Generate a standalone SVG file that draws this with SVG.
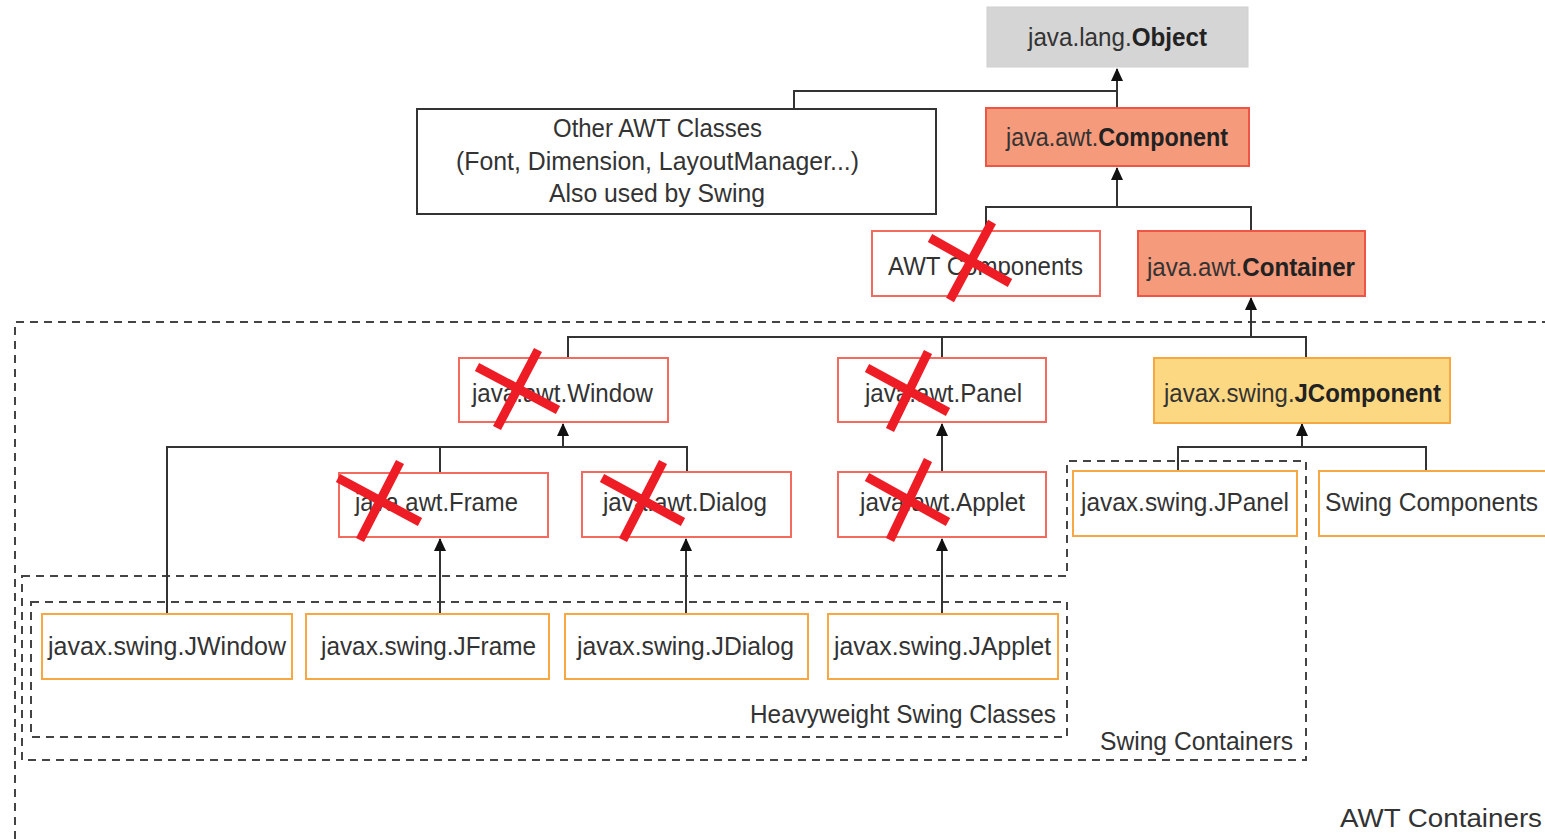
<svg xmlns="http://www.w3.org/2000/svg" width="1545" height="839" viewBox="0 0 1545 839">
<style>
text{font-family:"Liberation Sans",Arial,sans-serif;font-size:26px;fill:#333;}
.c{text-anchor:middle;}
.e{text-anchor:end;}
.b{font-weight:bold;fill:#222;}
.dash{fill:none;stroke:#444;stroke-width:2;stroke-dasharray:8 6;}
.con{fill:none;stroke:#333;stroke-width:2;}
.red{fill:#fff;stroke:#f26b5e;stroke-width:2;}
.org{fill:#fff;stroke:#f7a843;stroke-width:2;}
.sal{fill:#f59a7b;stroke:#ee5545;stroke-width:2;}
.yel{fill:#fcd883;stroke:#f5a840;stroke-width:2;}
.gry{fill:#d5d5d5;stroke:#d0d0d0;stroke-width:1;}
.blk{fill:#fff;stroke:#333;stroke-width:2;}
.x{stroke:#ee1c25;stroke-width:9;stroke-linecap:butt;}
</style>
<defs>
<marker id="arr" markerUnits="userSpaceOnUse" markerWidth="13" markerHeight="12" refX="12" refY="6" orient="auto">
<path d="M0,0 L13,6 L0,12 z" fill="#111"/>
</marker>
</defs>
<rect width="1545" height="839" fill="#fff"/>
<g id="groups">
<path class="dash" d="M1550,322 H15 V845"/>
<path class="dash" d="M22,576 H1067 V461 H1306 V760 H22 Z"/>
<rect class="dash" x="31" y="602" width="1036" height="135"/>
<text class="e" x="1056" y="723" textLength="306" lengthAdjust="spacingAndGlyphs">Heavyweight Swing Classes</text>
<text class="e" x="1293" y="750" textLength="193" lengthAdjust="spacingAndGlyphs">Swing Containers</text>
<text class="e" x="1542" y="827" textLength="202" lengthAdjust="spacingAndGlyphs">AWT Containers</text>
</g>
<g id="connectors">
<path class="con" d="M1117,108 V69" marker-end="url(#arr)"/>
<path class="con" d="M794,109 V91 H1117"/>
<path class="con" d="M1117,207 V168" marker-end="url(#arr)"/>
<path class="con" d="M986,231 V207 H1251 V231"/>
<path class="con" d="M1251,337 V298" marker-end="url(#arr)"/>
<path class="con" d="M568,358 V337 H1306 V358"/>
<path class="con" d="M942,337 V358"/>
<path class="con" d="M563,447 V424" marker-end="url(#arr)"/>
<path class="con" d="M167,613 V447 H687 V472"/>
<path class="con" d="M440,447 V473"/>
<path class="con" d="M440,613 V539" marker-end="url(#arr)"/>
<path class="con" d="M686,613 V539" marker-end="url(#arr)"/>
<path class="con" d="M942,613 V539" marker-end="url(#arr)"/>
<path class="con" d="M942,471 V424" marker-end="url(#arr)"/>
<path class="con" d="M1302,447 V424" marker-end="url(#arr)"/>
<path class="con" d="M1178,471 V447 H1426 V471"/>
</g>
<g id="object">
<rect class="gry" x="987" y="7" width="261" height="60"/>
<text class="c" x="1117.5" y="46" textLength="179" lengthAdjust="spacingAndGlyphs">java.lang.<tspan class="b">Object</tspan></text>
</g>
<g id="other-awt">
<rect class="blk" x="417" y="109" width="519" height="105"/>
<text class="c" x="657.5" y="137" textLength="209" lengthAdjust="spacingAndGlyphs">Other AWT Classes</text>
<text class="c" x="657.5" y="170" textLength="403" lengthAdjust="spacingAndGlyphs">(Font, Dimension, LayoutManager...)</text>
<text class="c" x="657" y="202" textLength="216" lengthAdjust="spacingAndGlyphs">Also used by Swing</text>
</g>
<g id="component">
<rect class="sal" x="986" y="108" width="263" height="58"/>
<text class="c" x="1117" y="146" textLength="222" lengthAdjust="spacingAndGlyphs">java.awt.<tspan class="b">Component</tspan></text>
</g>
<g id="awt-components">
<rect class="red" x="872" y="231" width="228" height="65"/>
<text class="c" x="985.5" y="275" textLength="195" lengthAdjust="spacingAndGlyphs">AWT Components</text>
<path class="x" d="M930,238 L1010,283 M992,222 L950,300"/>
</g>
<g id="container">
<rect class="sal" x="1138" y="231" width="227" height="65"/>
<text class="c" x="1251" y="276" textLength="208" lengthAdjust="spacingAndGlyphs">java.awt.<tspan class="b">Container</tspan></text>
</g>
<g id="window">
<rect class="red" x="459" y="358" width="209" height="64"/>
<text class="c" x="562.5" y="402" textLength="181" lengthAdjust="spacingAndGlyphs">java.awt.Window</text>
<path class="x" d="M477,367 L558,410 M538,350 L497,428"/>
</g>
<g id="panel">
<rect class="red" x="838" y="358" width="208" height="64"/>
<text class="c" x="943.5" y="402" textLength="157" lengthAdjust="spacingAndGlyphs">java.awt.Panel</text>
<path class="x" d="M867,368 L948,412 M928,352 L890,430"/>
</g>
<g id="jcomponent">
<rect class="yel" x="1154" y="358" width="296" height="65"/>
<text class="c" x="1302.5" y="402" textLength="277" lengthAdjust="spacingAndGlyphs">javax.swing.<tspan class="b">JComponent</tspan></text>
</g>
<g id="frame">
<rect class="red" x="339" y="473" width="209" height="64"/>
<text class="c" x="436.5" y="511" textLength="163" lengthAdjust="spacingAndGlyphs">java.awt.Frame</text>
<path class="x" d="M338,478 L420,522 M400,462 L360,540"/>
</g>
<g id="dialog">
<rect class="red" x="582" y="472" width="209" height="65"/>
<text class="c" x="685" y="511" textLength="164" lengthAdjust="spacingAndGlyphs">java.awt.Dialog</text>
<path class="x" d="M602,478 L683,522 M663,462 L623,540"/>
</g>
<g id="applet">
<rect class="red" x="838" y="472" width="208" height="65"/>
<text class="c" x="942.5" y="511" textLength="165" lengthAdjust="spacingAndGlyphs">java.awt.Applet</text>
<path class="x" d="M867,477 L948,522 M928,460 L890,540"/>
</g>
<g id="jpanel">
<rect class="org" x="1073" y="471" width="224" height="65"/>
<text class="c" x="1185" y="511" textLength="208" lengthAdjust="spacingAndGlyphs">javax.swing.JPanel</text>
</g>
<g id="swing-components">
<rect class="org" x="1319" y="471" width="240" height="65"/>
<text class="c" x="1431.5" y="511" textLength="213" lengthAdjust="spacingAndGlyphs">Swing Components</text>
</g>
<g id="jwindow">
<rect class="org" x="42" y="614" width="250" height="65"/>
<text class="c" x="167" y="655" textLength="238" lengthAdjust="spacingAndGlyphs">javax.swing.JWindow</text>
</g>
<g id="jframe">
<rect class="org" x="306" y="614" width="243" height="65"/>
<text class="c" x="428.5" y="655" textLength="215" lengthAdjust="spacingAndGlyphs">javax.swing.JFrame</text>
</g>
<g id="jdialog">
<rect class="org" x="565" y="614" width="243" height="65"/>
<text class="c" x="685.5" y="655" textLength="217" lengthAdjust="spacingAndGlyphs">javax.swing.JDialog</text>
</g>
<g id="japplet">
<rect class="org" x="828" y="614" width="230" height="65"/>
<text class="c" x="942.5" y="655" textLength="217" lengthAdjust="spacingAndGlyphs">javax.swing.JApplet</text>
</g>
</svg>
